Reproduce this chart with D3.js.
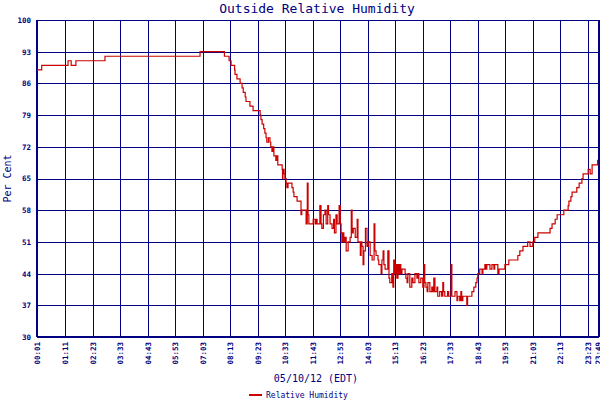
<!DOCTYPE html>
<html lang="en">
<head>
<meta charset="utf-8">
<title>Outside Relative Humidity</title>
<script src="https://cdn.jsdelivr.net/npm/d3@7"></script>
<style>
	body { margin: 0; background: #fff; }
	text { font-family: "DejaVu Sans Mono", monospace; fill: #000080; }
</style>
</head>
<body>
<script>
/** Readings: minutes after midnight, and humidity (%) from that minute on **/
var minutes = [
	1, 13, 80, 88, 100, 174, 416, 478, 490, 495,
	504, 505, 510, 518, 523, 526, 531, 533, 543, 551,
	569, 571, 574, 578, 581, 584, 586, 590, 594, 596,
	599, 602, 604, 609, 612, 614, 625, 626, 627, 630,
	632, 635, 637, 640, 650, 653, 655, 663, 673, 675,
	686, 689, 691, 693, 704, 709, 711, 714, 721, 724,
	726, 730, 734, 737, 741, 743, 747, 752, 756, 758,
	762, 765, 770, 773, 775, 777, 780, 782, 785, 788,
	793, 798, 801, 803, 806, 811, 816, 818, 824, 826,
	828, 831, 833, 837, 841, 844, 849, 854, 859, 861,
	864, 869, 871, 877, 879, 882, 884, 887, 894, 897,
	899, 904, 907, 909, 912, 915, 917, 920, 922, 925,
	927, 930, 938, 940, 943, 945, 950, 955, 958, 963,
	968, 971, 973, 978, 983, 986, 988, 991, 994, 996,
	1001, 1006, 1009, 1011, 1014, 1019, 1021, 1026, 1031, 1034,
	1036, 1039, 1046, 1049, 1055, 1057, 1065, 1070, 1072, 1077,
	1080, 1082, 1085, 1095, 1097, 1108, 1113, 1118, 1121, 1123,
	1128, 1134, 1136, 1141, 1144, 1146, 1154, 1159, 1164, 1166,
	1174, 1177, 1192, 1202, 1225, 1230, 1238, 1250, 1256, 1263,
	1268, 1276, 1307, 1312, 1320, 1325, 1342, 1353, 1355, 1360,
	1363, 1375, 1381, 1388, 1391, 1404, 1409, 1414, 1428, 1429
];
var humidity = [
	89, 90, 91, 90, 91, 92, 93, 92, 91, 90,
	89, 88, 87, 86, 85, 84, 83, 82, 81, 80,
	79, 78, 77, 76, 75, 74, 73, 74, 73, 72,
	71, 72, 70, 69, 70, 68, 67, 65, 67, 66,
	65, 64, 63, 64, 63, 62, 61, 60, 57, 58,
	55, 64, 57, 55, 56, 55, 56, 55, 59, 55,
	54, 57, 58, 55, 59, 57, 55, 54, 56, 53,
	57, 55, 59, 55, 53, 51, 53, 51, 52, 49,
	51, 52, 58, 53, 54, 52, 56, 51, 48, 51,
	50, 46, 49, 54, 50, 51, 48, 47, 55, 49,
	48, 47, 46, 44, 47, 49, 46, 45, 49, 43,
	42, 44, 41, 47, 44, 46, 43, 46, 44, 46,
	44, 45, 44, 43, 42, 44, 41, 43, 42, 44,
	43, 44, 42, 43, 41, 46, 42, 41, 40, 42,
	40, 41, 40, 43, 40, 41, 39, 40, 39, 42,
	40, 39, 40, 39, 46, 39, 40, 38, 39, 38,
	40, 38, 39, 37, 39, 40, 41, 42, 43, 44,
	45, 44, 45, 46, 45, 46, 45, 46, 45, 46,
	44, 45, 46, 47, 48, 49, 50, 51, 50, 51,
	52, 53, 54, 55, 56, 57, 58, 59, 60, 61,
	62, 63, 64, 65, 66, 67, 66, 68, 69, 69
];
var yTicks = [30, 37, 44, 51, 58, 65, 72, 79, 86, 93, 100];
var xTickLabels = ["00:01", "01:11", "02:23", "03:33", "04:43", "05:53", "07:03",
	"08:13", "09:23", "10:33", "11:43", "12:53", "14:03", "15:13", "16:23",
	"17:33", "18:43", "19:53", "21:03", "22:13", "23:23", "23:49"];

/** Layout **/
var width = 600;
var height = 400;
var plotLeft = 37, plotRight = 598, plotTop = 20, plotBottom = 337;
var navy = "#000080";
var red = "#cc0000";

var toMinutes = (s) => +s.slice(0, 2) * 60 + +s.slice(3, 5);
var xTickValues = xTickLabels.map(toMinutes);

var x = d3.scaleLinear().domain([1, 1429]).range([plotLeft, plotRight]);
var y = d3.scaleLinear().domain([30, 100]).range([plotBottom, plotTop]);

var svg = d3.select("body")
	.append("svg")
	.attr("width", width)
	.attr("height", height);

/** Y axis + horizontal grid **/
var yAxis = svg.append("g")
	.attr("transform", "translate(" + plotLeft + ",0)")
	.call(d3.axisLeft(y).tickValues(yTicks).tickSize(-(plotRight - plotLeft)).tickSizeOuter(0).tickPadding(6));
yAxis.selectAll(".tick line")
	.attr("stroke", navy)
	.attr("shape-rendering", "crispEdges");
yAxis.selectAll("text")
	.attr("font-size", "7.5px")
	.attr("font-weight", "bold")
	.attr("font-family", "DejaVu Sans Mono, monospace")
	.style("fill", navy);
yAxis.select(".domain").remove();

/** X axis + vertical grid **/
var xAxis = svg.append("g")
	.attr("transform", "translate(0," + plotBottom + ")")
	.call(d3.axisBottom(x).tickValues(xTickValues)
		.tickFormat((d, i) => xTickLabels[i])
		.tickSize(-(plotBottom - plotTop)).tickSizeOuter(0));
xAxis.selectAll(".tick line")
	.attr("stroke", navy)
	.attr("shape-rendering", "crispEdges");
xAxis.selectAll("text")
	.attr("transform", "rotate(-90)")
	.attr("x", -5)
	.attr("y", 0)
	.attr("dy", "0.35em")
	.attr("font-size", "7.5px")
	.attr("font-weight", "bold")
	.attr("font-family", "DejaVu Sans Mono, monospace")
	.style("text-anchor", "end")
	.style("fill", navy);
xAxis.select(".domain").remove();

/** Frame: heavier left, bottom and right edges **/
svg.append("line")
	.attr("x1", plotLeft).attr("x2", plotLeft).attr("y1", plotTop).attr("y2", plotBottom)
	.attr("stroke", navy).attr("stroke-width", 2);
svg.append("line")
	.attr("x1", plotLeft).attr("x2", plotRight + 1).attr("y1", plotBottom).attr("y2", plotBottom)
	.attr("stroke", navy).attr("stroke-width", 2);
svg.append("line")
	.attr("x1", plotRight + 1).attr("x2", plotRight + 1).attr("y1", plotTop).attr("y2", plotBottom)
	.attr("stroke", navy).attr("stroke-width", 2);

/** Humidity line **/
var readings = minutes.map((m, i) => [m, humidity[i]]);
var line = d3.line()
	.x((d) => x(d[0]))
	.y((d) => y(d[1]))
	.curve(d3.curveStepAfter);
svg.append("path")
	.datum(readings)
	.attr("d", line)
	.attr("fill", "none")
	.attr("stroke", red)
	.attr("stroke-width", 1.2);

/** Titles **/
svg.append("text")
	.attr("x", 317).attr("y", 13)
	.attr("text-anchor", "middle")
	.attr("font-size", "13px")
	.text("Outside Relative Humidity");
svg.append("text")
	.attr("transform", "translate(11," + ((plotTop + plotBottom) / 2) + ") rotate(-90)")
	.attr("text-anchor", "middle")
	.attr("font-size", "10px")
	.text("Per Cent");
svg.append("text")
	.attr("x", 316).attr("y", 382)
	.attr("text-anchor", "middle")
	.attr("font-size", "10px")
	.text("05/10/12 (EDT)");

/** Legend **/
svg.append("line")
	.attr("x1", 249).attr("x2", 262).attr("y1", 395).attr("y2", 395)
	.attr("stroke", red).attr("stroke-width", 2);
svg.append("text")
	.attr("x", 266).attr("y", 398)
	.attr("font-size", "8px")
	.text("Relative Humidity");
</script>
</body>
</html>
